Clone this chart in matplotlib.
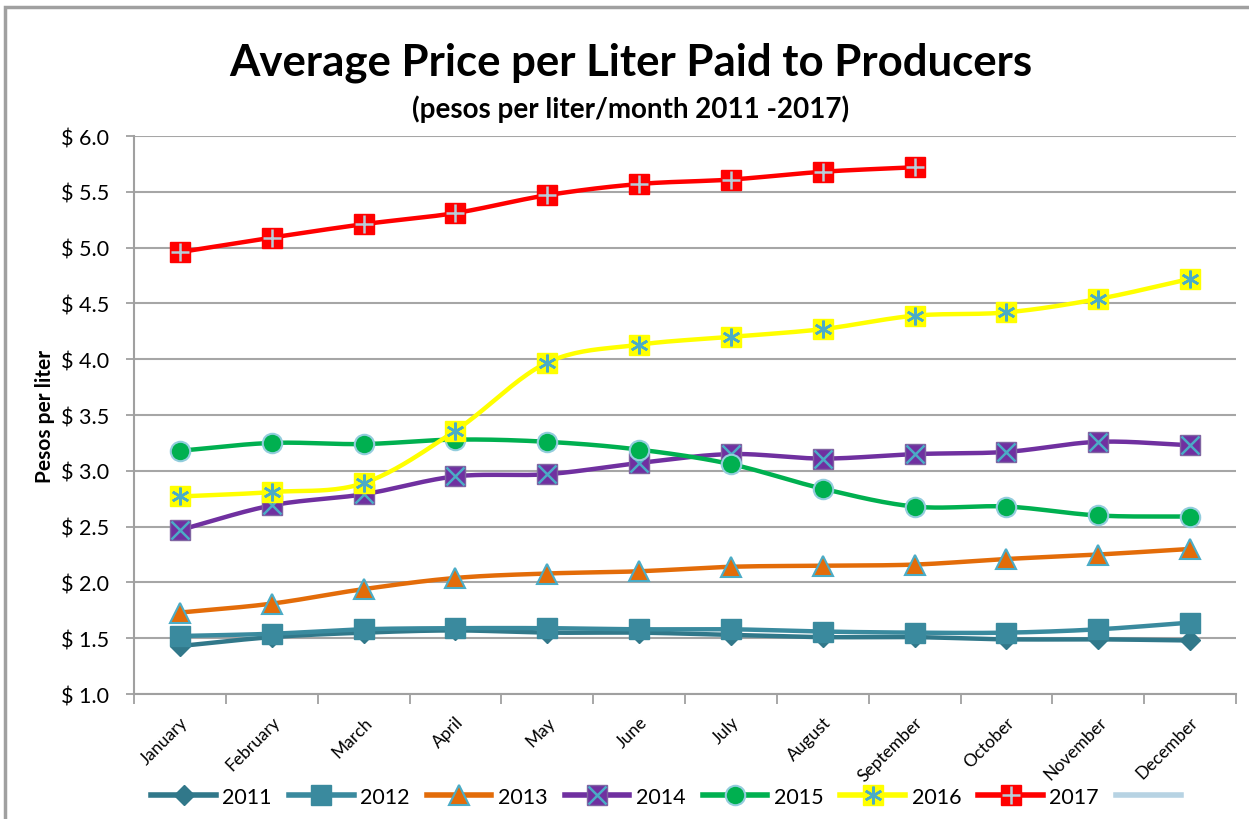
import numpy as np
import matplotlib
matplotlib.use("Agg")
from matplotlib import pyplot as plt
from matplotlib.patches import Rectangle
from matplotlib.lines import Line2D

months = ["January", "February", "March", "April", "May", "June", "July",
          "August", "September", "October", "November", "December"]

p2011 = [1.43, 1.51, 1.55, 1.57, 1.55, 1.55, 1.53, 1.51, 1.51, 1.49, 1.49, 1.48]
p2012 = [1.52, 1.54, 1.58, 1.59, 1.59, 1.58, 1.58, 1.56, 1.55, 1.55, 1.58, 1.64]
p2013 = [1.73, 1.81, 1.94, 2.04, 2.08, 2.10, 2.14, 2.15, 2.16, 2.21, 2.25, 2.30]
p2014 = [2.47, 2.69, 2.79, 2.95, 2.97, 3.07, 3.15, 3.11, 3.15, 3.17, 3.26, 3.23]
p2015 = [3.18, 3.25, 3.24, 3.28, 3.26, 3.19, 3.06, 2.84, 2.68, 2.68, 2.60, 2.59]
p2016 = [2.77, 2.81, 2.89, 3.36, 3.97, 4.13, 4.20, 4.27, 4.39, 4.42, 4.54, 4.72]
p2017 = [4.96, 5.09, 5.21, 5.31, 5.47, 5.57, 5.61, 5.68, 5.72]

plt.rcParams["font.family"] = ["Lato", "DejaVu Sans"]


def smooth(y, n=24):
    # catmull-rom style curve through the points, like excel's smoothed line
    x = np.arange(1, len(y) + 1, dtype=float)
    y = np.asarray(y, dtype=float)
    px = np.concatenate([[2 * x[0] - x[1]], x, [2 * x[-1] - x[-2]]])
    py = np.concatenate([[2 * y[0] - y[1]], y, [2 * y[-1] - y[-2]]])
    xs, ys = [], []
    t = np.linspace(0, 1, n)
    for i in range(1, len(px) - 2):
        for arr, out in ((px, xs), (py, ys)):
            p0, p1, p2, p3 = arr[i - 1], arr[i], arr[i + 1], arr[i + 2]
            c = 0.5 * ((2 * p1) + (-p0 + p2) * t + (2 * p0 - 5 * p1 + 4 * p2 - p3) * t ** 2
                       + (-p0 + 3 * p1 - 3 * p2 + p3) * t ** 3)
            out.extend(c)
    return np.array(xs), np.array(ys)


fig = plt.figure(figsize=(12.49, 8.2), dpi=100)
fig.patches.append(Rectangle((0.004, -0.05), 1.2, 1.05 - 0.01, transform=fig.transFigure,
                             fill=False, edgecolor="#A0A0A0", linewidth=2.5))
ax = fig.add_axes([0.1073, 0.1524, 0.8823, 0.6805])

series = [
    ("2011", p2011, "#31788A", dict(marker="D", ms=10, mfc="#31788A", mec="#31788A"), None),
    ("2012", p2012, "#3A8A9E", dict(marker="s", ms=14, mfc="#3A8A9E", mec="#3A8A9E"), None),
    ("2013", p2013, "#E36C09", dict(marker="^", ms=15, mfc="#E36C09", mec="#4BACC6", mew=1.5), None),
    ("2014", p2014, "#7030A0", dict(marker="s", ms=15, mfc="#7030A0", mec="#8064A2"), "x"),
    ("2015", p2015, "#00B050", dict(marker="o", ms=14, mfc="#00B050", mec="#93CDDD", mew=1.5), None),
    ("2016", p2016, "#FFFF00", dict(marker="s", ms=15, mfc="#FFFF00", mec="#FFFF00"), (6, 2, 0)),
    ("2017", p2017, "#FF0000", dict(marker="s", ms=15, mfc="#FF0000", mec="#FF0000"), "+"),
]
overlay_col = {"x": "#4BACC6", (6, 2, 0): "#4BACC6", "+": "#B7CDD8"}

handles = []
for z, (lab, vals, col, mk, over) in enumerate(series):
    sx, sy = smooth(vals)
    ax.plot(sx, sy, color=col, lw=3.2, zorder=3 + z, solid_capstyle="round")
    xs = np.arange(1, len(vals) + 1)
    ax.plot(xs, vals, ls="none", zorder=3 + z, **mk)
    h = Line2D([], [], color=col, lw=4, **mk)
    if over is not None:
        ax.plot(xs, vals, ls="none", marker=over, ms=mk["ms"] * 0.85, mew=1.8,
                color=overlay_col[over], zorder=3 + z)
        h = (h, Line2D([], [], ls="none", marker=over, ms=mk["ms"] * 0.85, mew=1.8,
                       color=overlay_col[over]))
    handles.append((h, lab))

handles.append((Line2D([], [], color="#B7D3E3", lw=4), " "))

ax.set_xlim(0.5, 12.5)
ax.set_ylim(1.0, 6.0)
ax.set_yticks(np.arange(1.0, 6.01, 0.5))
ax.set_yticklabels([f"$ {v:.1f}" for v in np.arange(1.0, 6.01, 0.5)], fontsize=15.5)
ax.set_xticks(range(1, 13))
ax.set_xticklabels(months, rotation=45, ha="right", rotation_mode="anchor", fontsize=12.5)
ax.set_xticks(np.arange(0.5, 12.6, 1), minor=True)
ax.tick_params(axis="x", which="major", length=0, pad=14)
ax.tick_params(axis="x", which="minor", length=7, color="#A0A0A0", width=1.3)
ax.tick_params(axis="y", length=6, color="#A0A0A0", width=1.3, pad=12)
ax.grid(axis="y", color="#A6A6A6", lw=1.5)
ax.set_axisbelow(True)
for s in ["top", "right"]:
    ax.spines[s].set_visible(False)
for s in ["left", "bottom"]:
    ax.spines[s].set_color("#A0A0A0")
    ax.spines[s].set_linewidth(1.5)

ax.set_ylabel("Pesos per liter", fontsize=15, fontweight="bold", labelpad=4)

fig.text(0.505, 0.924, "Average Price per Liter Paid to Producers", ha="center", va="center",
         fontsize=31.5, fontweight="bold")
fig.text(0.505, 0.867, "(pesos per liter/month 2011 -2017)", ha="center", va="center",
         fontsize=20, fontweight="bold")

fig.legend([h for h, _ in handles], [l for _, l in handles], loc="center", ncol=8,
           bbox_to_anchor=(0.538, 0.027), frameon=False, fontsize=15.5, handlelength=3,
           columnspacing=0.8, handletextpad=0.3)

fig.savefig("out.png", dpi=100)
